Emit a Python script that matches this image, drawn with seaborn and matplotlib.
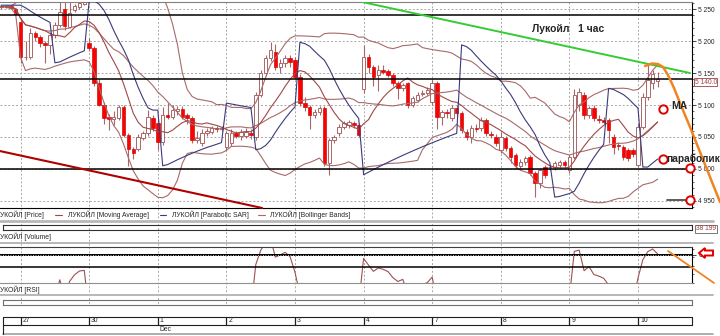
import numpy as np
import pandas as pd
import matplotlib
matplotlib.use("Agg")
import matplotlib.pyplot as plt
import seaborn as sns
from matplotlib.transforms import blended_transform_factory as blend
from matplotlib.ticker import MultipleLocator, FuncFormatter, FixedLocator
from matplotlib.patches import Polygon

sns.set_style("white")
plt.rcParams['font.family'] = ['Liberation Sans', 'DejaVu Sans']

# ---------------- data (hourly candles, LUKOIL) ----------------
opens = [5253, 5253, 5254, 5250,
         5230, 5175, 5175, 5212, 5206, 5197, 5194, 5210, 5225, 5250, 5222, 5248, 5253, 5258,
         5197, 5189, 5134, 5100, 5081, 5078, 5080, 5097, 5053, 5031, 5031, 5048, 5056, 5080,
         5072, 5042, 5084, 5081, 5090, 5094, 5084, 5080, 5045, 5040, 5056, 5058, 5064, 5063,
         5034, 5040, 5056, 5051, 5052, 5057, 5050, 5116, 5150, 5173, 5183, 5160, 5166, 5173,
         5170, 5144, 5103, 5097, 5084, 5089, 5095, 5009, 5045, 5056, 5066, 5068, 5072, 5069,
         5125, 5175, 5159, 5147, 5155, 5153, 5147, 5134, 5126, 5134, 5100, 5108, 5117, 5119,
         5105, 5134, 5081, 5089, 5080, 5095, 5087, 5058, 5050, 5064, 5064, 5077, 5055, 5050,
         5030, 5048, 5033, 5022, 5005, 5011, 5019, 4994, 4978, 5003, 5003, 5003, 5006, 5011,
         4998, 5019, 5100, 5116, 5084, 5095, 5078, 5077, 5077, 5050, 5037, 5034, 5030, 5030,
         5006, 5066, 5113, 5134, 5138]
closes = [5254, 5253, 5252, 5243,
          5175, 5175, 5212, 5206, 5197, 5194, 5210, 5225, 5245, 5223, 5244, 5254, 5260, 5261,
          5189, 5134, 5100, 5080, 5078, 5082, 5097, 5053, 5031, 5025, 5050, 5056, 5081, 5064,
          5042, 5084, 5081, 5092, 5093, 5081, 5080, 5045, 5048, 5056, 5060, 5064, 5062, 5064,
          5056, 5056, 5051, 5058, 5058, 5053, 5116, 5150, 5173, 5186, 5160, 5166, 5173, 5167,
          5144, 5103, 5097, 5084, 5089, 5095, 5009, 5045, 5050, 5066, 5072, 5073, 5069, 5053,
          5175, 5159, 5144, 5155, 5152, 5147, 5134, 5126, 5131, 5100, 5111, 5116, 5119, 5123,
          5134, 5081, 5089, 5087, 5095, 5087, 5061, 5050, 5064, 5062, 5077, 5056, 5053, 5041,
          5050, 5033, 5019, 5006, 5011, 5017, 4994, 4978, 4998, 4991, 5003, 5009, 5011, 5006,
          5019, 5116, 5120, 5084, 5095, 5080, 5077, 5073, 5061, 5034, 5036, 5019, 5017, 5023,
          5066, 5113, 5139, 5148, 5140]
highs = [5256, 5256, 5256, 5252,
         5235, 5200, 5220, 5216, 5210, 5200, 5214, 5230, 5262, 5262, 5262, 5258, 5262, 5263,
         5205, 5192, 5140, 5105, 5086, 5090, 5100, 5100, 5056, 5035, 5054, 5060, 5092, 5084,
         5078, 5097, 5103, 5100, 5098, 5098, 5088, 5083, 5060, 5062, 5064, 5067, 5067, 5067,
         5060, 5062, 5060, 5062, 5064, 5062, 5120, 5155, 5178, 5198, 5195, 5172, 5178, 5178,
         5175, 5148, 5112, 5100, 5094, 5098, 5098, 5048, 5053, 5070, 5075, 5076, 5075, 5072,
         5194, 5180, 5162, 5162, 5162, 5157, 5150, 5137, 5134, 5136, 5114, 5120, 5124, 5128,
         5140, 5138, 5092, 5094, 5100, 5100, 5090, 5062, 5068, 5070, 5082, 5080, 5060, 5055,
         5058, 5052, 5036, 5025, 5015, 5020, 5022, 4997, 5002, 5006, 5008, 5012, 5014, 5014,
         5022, 5125, 5126, 5120, 5098, 5100, 5084, 5082, 5080, 5054, 5042, 5038, 5033, 5033,
         5070, 5118, 5162, 5155, 5152]
lows = [5250, 5251, 5250, 5242,
        5166, 5170, 5172, 5200, 5190, 5166, 5180, 5205, 5222, 5218, 5220, 5245, 5250, 5256,
        5185, 5130, 5098, 5070, 5061, 5068, 5076, 5050, 5005, 5015, 5028, 5045, 5052, 5060,
        5030, 5038, 5078, 5078, 5085, 5078, 5070, 5040, 5040, 5036, 5052, 5055, 5058, 5060,
        5030, 5036, 5048, 5045, 5048, 5047, 5046, 5112, 5145, 5168, 5155, 5150, 5160, 5160,
        5140, 5098, 5090, 5063, 5080, 5085, 5005, 4991, 5040, 5052, 5062, 5064, 5064, 5050,
        5118, 5150, 5130, 5122, 5148, 5144, 5130, 5110, 5122, 5096, 5097, 5104, 5114, 5115,
        5100, 5062, 5068, 5080, 5075, 5082, 5056, 5045, 5040, 5058, 5060, 5052, 5048, 5036,
        5025, 5028, 5010, 5000, 5000, 5006, 4990, 4956, 4970, 4986, 4998, 4998, 5002, 5002,
        4994, 5015, 5090, 5078, 5080, 5075, 5072, 5070, 5040, 5024, 5030, 5014, 5012, 5018,
        5003, 5062, 5108, 5125, 5128]

day_labels = ["27", "30", "1", "2", "3", "4", "7", "8", "9", "10"]
day_starts = [4, 18, 32, 46, 60, 74, 88, 102, 116, 130]
month_label = "Dec"
month_day_index = 2
price_ticks = [4950, 5000, 5050, 5100, 5150, 5200, 5250]
level_lines = [5240, 5140, 5000]
last_label = 5140.0
volume_label = "38 199"
rsi_levels = [65, 59.5]
# drawn trend lines (bar index, price)
green_x, green_y = [73.7, 140.6], [5261, 5150]
red_x, red_y = [-0.2, 53.3], [5028, 4939]

# ---------------- indicators ----------------
df = pd.DataFrame(dict(i=np.arange(len(opens)), open=opens, high=highs, low=lows, close=closes))
df["ma"] = df.close.rolling(10, min_periods=1).mean()
mid = df.close.rolling(20, min_periods=2).mean()
sd = df.close.rolling(20, min_periods=2).std(ddof=0)
df["bb_up"], df["bb_mid"], df["bb_lo"] = mid + 2 * sd, mid, mid - 2 * sd


def psar(h, l, af0=0.02, afmax=0.2):
    n = len(h)
    sar = [h[0]] * n
    bull, af, ep = False, af0, l[0]
    for k in range(1, n):
        s = sar[k - 1] + af * (ep - sar[k - 1])
        if bull:
            s = min(s, l[k - 1], l[max(k - 2, 0)])
            if l[k] < s:
                bull, s, ep, af = False, ep, l[k], af0
            elif h[k] > ep:
                ep, af = h[k], min(af + af0, afmax)
        else:
            s = max(s, h[k - 1], h[max(k - 2, 0)])
            if h[k] > s:
                bull, s, ep, af = True, ep, h[k], af0
            elif l[k] < ep:
                ep, af = l[k], min(af + af0, afmax)
        sar[k] = s
    return sar


df["sar"] = psar(highs, lows)
d = df.close.diff()
gain = d.clip(lower=0).ewm(alpha=1 / 14, adjust=False).mean()
loss = (-d.clip(upper=0)).ewm(alpha=1 / 14, adjust=False).mean()
df["rsi"] = 100 - 100 / (1 + gain / loss)

# ---------------- figure ----------------
W, H = 720, 336
fig = plt.figure(figsize=(7.2, 3.36), dpi=100)


def rect(x0, y0, x1, y1):
    return [x0 / W, 1 - y1 / H, (x1 - x0) / W, (y1 - y0) / H]


bg = fig.add_axes([0, 0, 1, 1])
bg.set_xlim(0, W); bg.set_ylim(H, 0); bg.axis("off"); bg.set_zorder(0)

ax = fig.add_axes(rect(0, 2, 692, 208)); ax.set_zorder(1); ax.patch.set_alpha(0)
vol = fig.add_axes(rect(3, 225, 692, 230)); vol.set_zorder(1); vol.patch.set_alpha(0)
rs = fig.add_axes(rect(0, 247, 692, 283)); rs.set_zorder(1); rs.patch.set_alpha(0)
bot = fig.add_axes(rect(3, 300, 692, 305)); bot.set_zorder(1); bot.patch.set_alpha(0)
fg = fig.add_axes([0, 0, 1, 1])
fg.set_xlim(0, W); fg.set_ylim(H, 0); fg.axis("off"); fg.set_zorder(5); fg.patch.set_alpha(0)

XL = (-1 / 4.9, 691 / 4.9)
WICK = "#a86868"; UPEDGE = "#a86868"; RED = "#ff0000"
MA_C = "#a04848"; BB_C = "#a86a6a"; SAR_C = "#3a3a7c"; GRID = "#a8a8a8"

# ---- main price panel
up = df.close >= df.open
ax.vlines(df.i, df.low, df.high, color=WICK, lw=0.8, zorder=2)
ax.bar(df.i[up], (df.close - df.open)[up], bottom=df.open[up], width=0.72,
       color="white", edgecolor=UPEDGE, linewidth=0.7, zorder=3)
ax.bar(df.i[~up], (df.open - df.close)[~up], bottom=df.close[~up], width=0.72,
       color=RED, edgecolor="#cc1010", linewidth=0.5, zorder=3)
for col, c in [("bb_up", BB_C), ("bb_mid", BB_C), ("bb_lo", BB_C), ("ma", MA_C)]:
    sns.lineplot(data=df, x="i", y=col, ax=ax, color=c, lw=0.8, zorder=4, legend=False)
sns.lineplot(data=df, x="i", y="sar", ax=ax, color=SAR_C, lw=0.8, zorder=4, legend=False)
for lv in level_lines:
    ax.axhline(lv, color="black", lw=1.1, zorder=5)
ax.plot(green_x, green_y, color="#33cc33", lw=1.4, zorder=6)
ax.plot(red_x, red_y, color="#b00000", lw=1.5, zorder=6, clip_on=False)
ax.set_xlim(*XL); ax.set_ylim(4939, 5261)
ax.set_xlabel(""); ax.set_ylabel("")
ax.set_xticks([])
ax.yaxis.set_major_locator(FixedLocator(price_ticks))
ax.yaxis.set_minor_locator(MultipleLocator(10))
ax.yaxis.set_major_formatter(FuncFormatter(lambda v, p: f"{int(v):,}".replace(",", " ")))
ax.yaxis.tick_right()
ax.tick_params(axis="y", which="major", length=3, width=0.6, pad=1.5, labelsize=4.8,
               right=True, left=False, labelright=True, labelleft=False)
ax.tick_params(axis="y", which="minor", length=1.5, width=0.5, right=True, left=False)
ax.grid(axis="y", ls=(0, (2, 2)), color=GRID, lw=0.7)
ax.grid(axis="x", visible=False)
ax.spines["left"].set_visible(False)
ax.spines["top"].set_color("#808080")
for s in ["right", "bottom"]:
    ax.spines[s].set_color("black"); ax.spines[s].set_linewidth(0.8)
ax.text(1.004, last_label - 4.5, f"{int(last_label):,}".replace(",", " ") + ".0",
        transform=blend(ax.transAxes, ax.transData), fontsize=4.8, color="#a04040",
        va="center", ha="left",
        bbox=dict(boxstyle="square,pad=0.08", fc="white", ec="#a04040", lw=0.6))

# ---- vertical day lines spanning panels
tr = blend(ax.transData, bg.transData)
for ds in day_starts:
    bg.plot([ds, ds], [2, 305], transform=tr, color=GRID, lw=0.7, ls=(0, (2, 2)))

# ---- volume strip
vol.set_xlim(*XL); vol.set_xticks([]); vol.set_yticks([])
for s in vol.spines.values():
    s.set_color("#303030"); s.set_linewidth(0.8)
fg.text(696, 229, volume_label, fontsize=4.8, color="#a04040", va="center", ha="left",
        bbox=dict(boxstyle="square,pad=0.12", fc="white", ec="#606060", lw=0.6))

# ---- RSI panel
sns.lineplot(data=df, x="i", y="rsi", ax=rs, color="#a05050", lw=0.8, legend=False)
rs.axhline(rsi_levels[0], color="black", lw=1.4)
rs.axhline(rsi_levels[0], color="white", lw=0.6, ls=(0, (1, 2)))
rs.axhline(rsi_levels[1], color="black", lw=1.1)
rs.set_xlim(*XL); rs.set_ylim(52, 68.7)
rs.set_xlabel(""); rs.set_ylabel(""); rs.set_xticks([])
rs.yaxis.tick_right()
rs.set_yticks([rsi_levels[0]])
rs.yaxis.set_minor_locator(MultipleLocator(4))
rs.tick_params(axis="y", which="major", length=3, width=0.6, pad=1.5, labelsize=4.8)
rs.tick_params(axis="y", which="minor", length=1.5, width=0.5)
rs.spines["left"].set_visible(False)
rs.spines["top"].set_color("#404040")
rs.spines["bottom"].set_color("#909090")
rs.spines["right"].set_color("black"); rs.spines["right"].set_linewidth(0.8)

# ---- bottom strip
bot.set_xlim(*XL); bot.set_xticks([]); bot.set_yticks([])
for s in bot.spines.values():
    s.set_color("#707070"); s.set_linewidth(0.8)

# ---- separators and legend rows
for yy, lw in [(221, 2.0), (243, 1.4), (295, 1.4)]:
    bg.plot([0, 713], [yy, yy], color="#b8b8b8", lw=lw)
fs = 4.9
fg.text(0, 215, "УКОЙЛ [Price]", fontsize=fs, va="center", ha="left")
fg.plot([55, 62], [215, 215], color=MA_C, lw=0.8)
fg.text(68, 215, "ЛУКОЙЛ [Moving Average]", fontsize=fs, va="center", ha="left")
fg.plot([160, 166], [215, 215], color=SAR_C, lw=0.8)
fg.text(172, 215, "ЛУКОЙЛ [Parabolic SAR]", fontsize=fs, va="center", ha="left")
fg.plot([258, 265], [215, 215], color=BB_C, lw=0.8)
fg.text(270, 215, "ЛУКОЙЛ [Bollinger Bands]", fontsize=fs, va="center", ha="left")
fg.text(0, 237, "УКОЙЛ [Volume]", fontsize=fs, va="center", ha="left")
fg.text(0, 290, "УКОЙЛ [RSI]", fontsize=fs, va="center", ha="left")

# ---- time axis rows
bg.plot([3, 692], [317, 317], color="#202020", lw=0.8)
bg.plot([3, 692], [325, 325], color="#202020", lw=0.8)
bg.plot([3, 713], [333.5, 333.5], color="#a0a0a0", lw=1.2)
bg.plot([3, 3], [317, 333.5], color="#202020", lw=0.8)
bg.plot([692, 692], [317, 325], color="#202020", lw=0.8)
trt = blend(ax.transData, fg.transData)
for ds, lab in zip(day_starts, day_labels):
    bg.plot([ds, ds], [317, 325], transform=tr, color="#202020", lw=0.9)
    fg.text(ds + 0.4, 321, lab, transform=trt, fontsize=fs, va="center", ha="left")
fg.text(day_starts[month_day_index] + 0.4, 329.5, month_label, transform=trt,
        fontsize=fs, va="center", ha="left")

# ---- hand-drawn annotations
ORANGE = "#f28322"
cx = [645, 652, 658, 663, 668, 674, 680, 690, 700, 710, 720]
cy = [66, 63.5, 64, 67, 75, 88, 103, 127, 152, 177, 202]
fg.plot(cx, cy, color=ORANGE, lw=1.8, solid_capstyle="round")
fg.plot([668, 714], [251, 283], color=ORANGE, lw=1.3)
fg.text(532, 28.5, "Лукойл   1 час", fontsize=7.5, fontweight="bold", va="center", ha="left")
fg.text(671, 106, "МА", fontsize=7.5, fontweight="bold", va="center", ha="left")
fg.text(666, 159, "параболик", fontsize=7.3, fontweight="bold", va="center", ha="left")
fg.plot([667, 687], [200, 200], color="#404040", lw=1.2)
for (px, py) in [(663, 109), (663, 159), (690, 168), (690, 200)]:
    fg.plot(px, py, marker="o", ms=6, mfc="white", mec="#e00000", mew=1.4)
arrow = Polygon([(699, 253), (705, 248), (705, 250.5), (713, 250.5), (713, 255.5),
                 (705, 255.5), (705, 258)], closed=True, fc="white", ec="#e00000", lw=1.4)
fg.add_patch(arrow)

fig.savefig("out.png", dpi=100)
